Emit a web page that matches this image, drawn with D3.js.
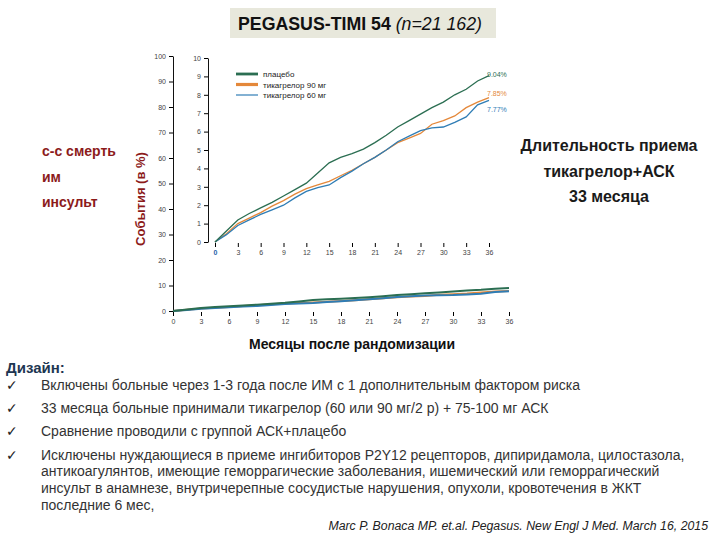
<!DOCTYPE html>
<html>
<head>
<meta charset="utf-8">
<script src="https://cdn.jsdelivr.net/npm/d3@7/dist/d3.min.js"></script>
<style>
  body { margin: 0; background: #fff; }
  svg { display: block; font-family: "Liberation Sans", Arial, sans-serif; }
  .tick text { fill: #444; }
</style>
</head>
<body>
<svg width="720" height="540"></svg>
<script>
// data (cumulative events, %)
const months  = [0, 1.5, 3, 4.5, 6, 7.5, 9, 10.5, 12, 13.5, 15, 16.5, 18, 19.5, 21, 22.5, 24, 25.5, 27, 28.5, 30, 31.5, 33, 34.5, 36]
const placebo = [0, 0.6, 1.2, 1.55, 1.85, 2.15, 2.5, 2.85, 3.2, 3.75, 4.3, 4.6, 4.8, 5.05, 5.4, 5.8, 6.25, 6.6, 6.95, 7.3, 7.6, 8.0, 8.3, 8.75, 9.04]
const tica90  = [0, 0.45, 1.0, 1.3, 1.6, 1.95, 2.25, 2.6, 2.9, 3.1, 3.3, 3.6, 3.9, 4.25, 4.6, 5.0, 5.4, 5.65, 5.9, 6.4, 6.6, 6.85, 7.3, 7.6, 7.85]
const tica60  = [0, 0.4, 0.9, 1.2, 1.5, 1.75, 2.0, 2.4, 2.75, 2.95, 3.1, 3.5, 3.85, 4.25, 4.6, 5.0, 5.45, 5.75, 6.05, 6.2, 6.25, 6.5, 6.8, 7.45, 7.7]

const seriesNames = ["плацебо", "тикагрелор 90 мг", "тикагрелор 60 мг"]
const endLabels   = ["9.04%", "7.85%", "7.77%"]
const monthTicks  = [0, 3, 6, 9, 12, 15, 18, 21, 24, 27, 30, 33, 36]
const mainYTicks  = [0, 10, 20, 30, 40, 50, 60, 70, 80, 90, 100]
const insetYTicks = [0, 1, 2, 3, 4, 5, 6, 7, 8, 9, 10]

const endpoints = ["с-с смерть", "им", "инсульт"]
const sideNote  = ["Длительность приема", "тикагрелор+АСК", "33 месяца"]
const design = [
    ["Включены больные через 1-3 года после ИМ с 1 дополнительным фактором риска"],
    ["33 месяца  больные принимали тикагрелор (60 или 90 мг/2 р) + 75-100 мг АСК"],
    ["Сравнение проводили с группой АСК+плацебо"],
    ["Исключены нуждающиеся в приеме ингибиторов P2Y12 рецепторов, дипиридамола, цилостазола,",
     "антикоагулянтов, имеющие геморрагические заболевания, ишемический или геморрагический",
     "инсульт в анамнезе, внутричерепные сосудистые нарушения, опухоли, кровотечения в ЖКТ",
     "последние 6 мес,"]
]
const citation = "Marc P. Bonaca MP. et.al. Pegasus. New Engl J Med. March 16, 2015"

const series = [
    { name: seriesNames[0], values: placebo, label: endLabels[0], color: "#2b6e52", legendW: 2.8, dy: 1 },
    { name: seriesNames[1], values: tica90,  label: endLabels[1], color: "#e4883a", legendW: 3.2, dy: -2 },
    { name: seriesNames[2], values: tica60,  label: endLabels[2], color: "#2f7db5", legendW: 1.2, dy: 12 },
]
const drawOrder = [series[1], series[2], series[0]]

const svg = d3.select("svg")
const maroon = "#8c1b1b"

// title
svg.append("rect")
    .attr("x", 230).attr("y", 8)
    .attr("width", 266).attr("height", 30)
    .attr("fill", "#e8e8dc")
const title = svg.append("text")
    .attr("x", 238).attr("y", 30)
    .attr("font-size", 18)
    .attr("fill", "#111")
title.append("tspan").attr("font-weight", "bold").text("PEGASUS-TIMI 54 ")
title.append("tspan").attr("font-style", "italic").text("(n=21 162)")
title.attr("textLength", 244).attr("lengthAdjust", "spacingAndGlyphs")

// main chart
const mx = d3.scaleLinear().domain([0, 36]).range([173, 509])
const my = d3.scaleLinear().domain([0, 100]).range([311, 56])

svg.append("g")
    .attr("transform", "translate(173,0)")
    .call(d3.axisLeft(my).tickValues(mainYTicks).tickSize(4).tickSizeOuter(0))
    .call(g => g.selectAll("text").attr("font-size", 7))
    .call(g => g.select(".domain").attr("stroke", "#111"))

svg.append("g")
    .attr("transform", "translate(0,312)")
    .call(d3.axisBottom(mx).tickValues(monthTicks).tickSize(4))
    .call(g => g.select(".domain").remove())
    .call(g => g.selectAll("text").attr("font-size", 7))

const mline = d3.line()
    .x((d, i) => mx(months[i]))
    .y(d => my(d))

drawOrder.forEach(s => {
    svg.append("path")
        .datum(s.values)
        .attr("fill", "none")
        .attr("stroke", s.color)
        .attr("stroke-width", 2)
        .attr("d", mline)
})

// inset
const ix = d3.scaleLinear().domain([0, 36]).range([215, 489])
const iy = d3.scaleLinear().domain([0, 10]).range([242, 58])

svg.append("g")
    .attr("transform", "translate(208,0)")
    .call(d3.axisLeft(iy).tickValues(insetYTicks).tickSize(4).tickSizeOuter(0))
    .call(g => g.selectAll("text").attr("font-size", 7))
    .call(g => g.select(".domain").attr("stroke", "#111"))

svg.append("g")
    .attr("transform", "translate(0,243)")
    .call(d3.axisBottom(ix).tickValues(monthTicks).tickSize(4))
    .call(g => g.select(".domain").remove())
    .call(g => g.selectAll("text").attr("font-size", 7))
    .call(g => g.selectAll(".tick").filter(d => d === 0).select("text")
        .style("fill", "#1f5fa8").attr("font-weight", "bold"))

const iline = d3.line()
    .x((d, i) => ix(months[i]))
    .y(d => iy(d))

drawOrder.forEach(s => {
    svg.append("path")
        .datum(s.values)
        .attr("fill", "none")
        .attr("stroke", s.color)
        .attr("stroke-width", 1.3)
        .attr("d", iline)
})

series.forEach(s => {
    svg.append("text")
        .attr("x", ix(36) - 2)
        .attr("y", iy(s.values[s.values.length - 1]) + s.dy)
        .attr("font-size", 7)
        .attr("fill", s.color)
        .text(s.label)
})

// legend
const legend = svg.append("g").attr("transform", "translate(236,74)")
series.forEach((s, i) => {
    const row = legend.append("g").attr("transform", `translate(0,${i * 10.5})`)
    row.append("line")
        .attr("x1", 0).attr("x2", 22)
        .attr("stroke", s.color)
        .attr("stroke-width", s.legendW)
    row.append("text")
        .attr("x", 27).attr("y", 3)
        .attr("font-size", 8)
        .attr("fill", "#222")
        .text(s.name)
})

// y label + endpoints
svg.append("text")
    .attr("transform", "translate(145,199) rotate(-90)")
    .attr("text-anchor", "middle")
    .attr("font-size", 13)
    .attr("font-weight", "bold")
    .attr("fill", maroon)
    .text("События (в %)")

endpoints.forEach((t, i) => {
    svg.append("text")
        .attr("x", 42).attr("y", 156 + i * 25.5)
        .attr("font-size", 14)
        .attr("font-weight", "bold")
        .attr("fill", maroon)
        .text(t)
})

sideNote.forEach((t, i) => {
    svg.append("text")
        .attr("x", 609).attr("y", 151 + i * 25.5)
        .attr("text-anchor", "middle")
        .attr("font-size", 16)
        .attr("font-weight", "bold")
        .attr("fill", "#1a1a1a")
        .text(t)
})

svg.append("text")
    .attr("x", 352).attr("y", 349)
    .attr("text-anchor", "middle")
    .attr("font-size", 14)
    .attr("font-weight", "bold")
    .attr("fill", "#111")
    .text("Месяцы после рандомизации")

// design notes
svg.append("text")
    .attr("x", 6).attr("y", 373)
    .attr("font-size", 15)
    .attr("font-weight", "bold")
    .attr("fill", "#1e3652")
    .text("Дизайн:")

const bulletY = [389.5, 412.5, 435.5, 459.5]
design.forEach((lines, i) => {
    svg.append("text")
        .attr("x", 6).attr("y", bulletY[i])
        .attr("font-family", "DejaVu Sans")
        .attr("font-size", 14)
        .attr("fill", "#222")
        .text("✓")
    lines.forEach((t, j) => {
        svg.append("text")
            .attr("x", 41).attr("y", bulletY[i] + j * 16.8)
            .attr("font-size", 14)
            .attr("fill", "#333")
            .text(t)
    })
})

svg.append("text")
    .attr("x", 708).attr("y", 530)
    .attr("text-anchor", "end")
    .attr("font-size", 12.3)
    .attr("font-style", "italic")
    .attr("fill", "#222")
    .text(citation)
</script>
</body>
</html>
